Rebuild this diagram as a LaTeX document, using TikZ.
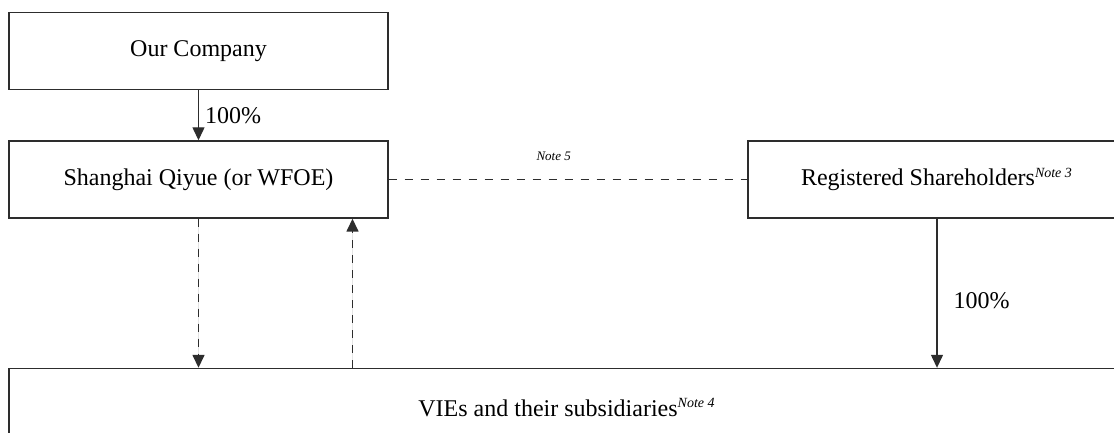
\documentclass[tikz,border=0pt]{standalone}
\usepackage{fontspec}
\setmainfont{Liberation Serif}
\usepackage{tikz}
\usetikzlibrary{arrows.meta, positioning, calc}
\definecolor{linegray}{RGB}{45,45,45}
\newcommand{\notemark}[1]{\textsuperscript{\fontsize{7}{8}\selectfont\itshape Note #1}}

\begin{document}
\begin{tikzpicture}[
    x=0.5pt, y=-0.5pt,
    entity/.style={draw=linegray, line width=0.7pt, fill=white,
                   minimum width=#1, minimum height=38.5pt,
                   inner sep=0pt, font=\fontsize{12}{14}\selectfont, align=center},
    entity/.default=189.5pt,
    arr/.style={-{Triangle[length=6.5pt, width=6pt]}, line width=0.65pt, draw=linegray, fill=linegray},
    dasharr/.style={arr, line width=0.75pt, dash pattern=on 4pt off 3.5pt},
    link/.style={line width=0.75pt, draw=linegray, dash pattern=on 4pt off 4pt},
    pct/.style={font=\fontsize{12}{14}\selectfont, inner sep=3pt},
    notelabel/.style={font=\fontsize{6.5}{8}\selectfont\itshape, inner sep=2pt}
  ]
    \path[use as bounding box, clip] (0,0) rectangle (1114,433);

    %% LEFT COLUMN
    \node[entity] (company) at (198.5,51) {Our Company};
    \node[entity] (wfoe) at (198.5,179.5) {Shanghai Qiyue (or WFOE)};

    %% RIGHT BOX
    \node[entity=189pt] (holders) at (937,179.5) {Registered Shareholders\notemark{3}};

    %% BOTTOM BOX
    \node[entity=558pt, minimum height=39pt] (vies) at (567,407.5)
      {VIEs and their subsidiaries\notemark{4}};

    %% ARROWS
    \draw[arr] (company) -- node[right, pct]{100\%} (wfoe);
    \draw[link] (wfoe) -- node[pos=0.46, above=7pt, notelabel]{Note 5} (holders);
    \draw[dasharr] (wfoe.south) -- (wfoe.south |- vies.north);
    \coordinate (back) at (352.5,0);
    \draw[dasharr] (vies.north -| back) -- (wfoe.south -| back);
    \draw[arr] (holders.south) -- node[pos=0.55, right, pct, xshift=5pt]{100\%}
      (holders.south |- vies.north);
  \end{tikzpicture}
\end{document}
